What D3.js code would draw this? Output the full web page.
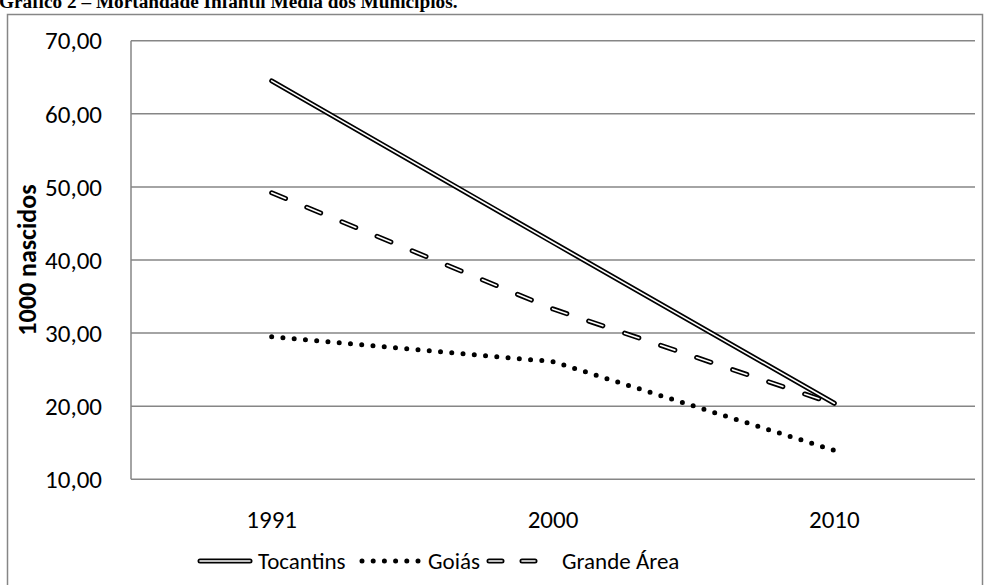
<!DOCTYPE html>
<html>
<head>
<meta charset="utf-8">
<script src="https://cdn.jsdelivr.net/npm/d3@7"></script>
<style>
  html, body { margin: 0; padding: 0; background: #fff; }
  svg { display: block; }
  .tick-label { font-family: Calibri, Carlito, "Noto Sans", sans-serif; font-size: 25px; fill: #000; }
  .legend-label { font-family: Calibri, Carlito, "Noto Sans", sans-serif; font-size: 23px; fill: #000; }
</style>
</head>
<body>
<svg id="chart" width="985" height="585"></svg>
<script>
// Infant mortality (per 1000 births), municipal averages
const years = ["1991", "2000", "2010"];
const tocantins = [64.5, 42.4, 20.4];
const goias = [29.5, 26.1, 13.95];
const grandeArea = [49.2, 33.3, 20.3];
const yTicks = [10, 20, 30, 40, 50, 60, 70];
const legendNames = ["Tocantins", "Goiás", "Grande Área"];

const svg = d3.select("#chart");
const gridColor = "#868686";

// Title (partly cut off by the top edge)
svg.append("text")
  .attr("x", -1).attr("y", 8)
  .attr("font-family", "'Times New Roman', 'Liberation Serif', serif")
  .attr("font-weight", "bold")
  .attr("font-size", 19.3)
  .text("Gráfico 2 – Mortandade Infantil Média dos Municípios.");

// Chart frame
svg.append("rect")
  .attr("x", 7.5).attr("y", 14.5)
  .attr("width", 975).attr("height", 600)
  .attr("fill", "none").attr("stroke", gridColor).attr("stroke-width", 1.5);

const x = d3.scaleBand().domain(years).range([131, 975]);
const y = d3.scaleLinear().domain([10, 70]).range([479.3, 40.7]);

// Horizontal gridlines
svg.append("g").selectAll("line").data(yTicks).join("line")
  .attr("x1", 131).attr("x2", 975)
  .attr("y1", d => y(d)).attr("y2", d => y(d))
  .attr("stroke", gridColor).attr("stroke-width", 1.5);

// Vertical axis line
svg.append("line")
  .attr("x1", 131).attr("x2", 131)
  .attr("y1", y(70)).attr("y2", y(10))
  .attr("stroke", gridColor).attr("stroke-width", 1.5);

// Y tick labels
const fmt = v => d3.format(".2f")(v).replace(".", ",");
svg.append("g").selectAll("text").data(yTicks).join("text")
  .attr("class", "tick-label")
  .attr("x", 102).attr("y", d => y(d))
  .attr("dy", "0.35em")
  .attr("text-anchor", "end")
  .text(fmt);

// Y axis title
svg.append("text")
  .attr("transform", `translate(36, ${(y(70) + y(10)) / 2}) rotate(-90)`)
  .attr("text-anchor", "middle")
  .attr("font-family", "Calibri, Carlito, 'Noto Sans', sans-serif")
  .attr("font-weight", "bold")
  .attr("font-size", 26)
  .text("1000 nascidos");

// X tick labels
svg.append("g").selectAll("text").data(years).join("text")
  .attr("class", "tick-label")
  .attr("x", d => x(d) + x.bandwidth() / 2)
  .attr("y", 528)
  .attr("text-anchor", "middle")
  .text(d => d);

const line = d3.line()
  .x((d, i) => x(years[i]) + x.bandwidth() / 2)
  .y(d => y(d));

const plot = svg.append("g");

// Goiás: round dots
plot.append("path").datum(goias)
  .attr("d", line).attr("fill", "none")
  .attr("stroke", "#000").attr("stroke-width", 5)
  .attr("stroke-linecap", "round")
  .attr("stroke-dasharray", "0,11.3");

// Grande Área: hollow dashes
plot.append("path").datum(grandeArea)
  .attr("d", line).attr("fill", "none")
  .attr("stroke", "#000").attr("stroke-width", 5)
  .attr("stroke-linecap", "round")
  .attr("stroke-dasharray", "15,23");
plot.append("path").datum(grandeArea)
  .attr("d", line).attr("fill", "none")
  .attr("stroke", "#fff").attr("stroke-width", 1.6)
  .attr("stroke-linecap", "round")
  .attr("stroke-dasharray", "15,23");

// Tocantins: double (hollow) line
plot.append("path").datum(tocantins)
  .attr("d", line).attr("fill", "none")
  .attr("stroke", "#000").attr("stroke-width", 5)
  .attr("stroke-linecap", "round").attr("stroke-linejoin", "round");
plot.append("path").datum(tocantins)
  .attr("d", line).attr("fill", "none")
  .attr("stroke", "#fff").attr("stroke-width", 1.6)
  .attr("stroke-linecap", "round").attr("stroke-linejoin", "round");

// Legend
const legendY = 561;
const legend = svg.append("g");
const items = [
  { name: legendNames[0], x0: 200, x1: 250, tx: 258 },
  { name: legendNames[1], x0: 362, x1: 418, tx: 428 },
  { name: legendNames[2], x0: 489, x1: 547, tx: 562 }
];

// Tocantins swatch
legend.append("line").attr("x1", items[0].x0).attr("x2", items[0].x1)
  .attr("y1", legendY).attr("y2", legendY)
  .attr("stroke", "#000").attr("stroke-width", 5).attr("stroke-linecap", "round");
legend.append("line").attr("x1", items[0].x0).attr("x2", items[0].x1)
  .attr("y1", legendY).attr("y2", legendY)
  .attr("stroke", "#fff").attr("stroke-width", 1.6).attr("stroke-linecap", "round");

// Goiás swatch
legend.append("line").attr("x1", items[1].x0).attr("x2", items[1].x1)
  .attr("y1", legendY).attr("y2", legendY)
  .attr("stroke", "#000").attr("stroke-width", 5).attr("stroke-linecap", "round")
  .attr("stroke-dasharray", "0,11.2");

// Grande Área swatch
legend.append("line").attr("x1", items[2].x0).attr("x2", items[2].x1)
  .attr("y1", legendY).attr("y2", legendY)
  .attr("stroke", "#000").attr("stroke-width", 5).attr("stroke-linecap", "round")
  .attr("stroke-dasharray", "13,20");
legend.append("line").attr("x1", items[2].x0).attr("x2", items[2].x1)
  .attr("y1", legendY).attr("y2", legendY)
  .attr("stroke", "#fff").attr("stroke-width", 1.6).attr("stroke-linecap", "round")
  .attr("stroke-dasharray", "13,20");

legend.selectAll("text").data(items).join("text")
  .attr("class", "legend-label")
  .attr("x", d => d.tx).attr("y", legendY)
  .attr("dy", "0.35em")
  .text(d => d.name);
</script>
</body>
</html>
